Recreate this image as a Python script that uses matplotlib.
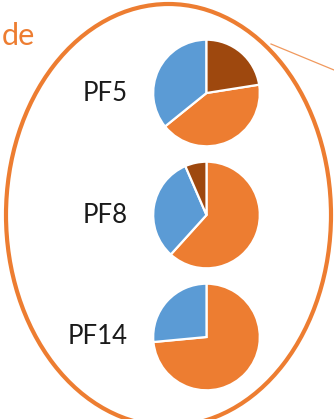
import matplotlib.pyplot as plt
from matplotlib.patches import Ellipse

# pie shares per profile (percent)
profiles = ['PF5', 'PF8', 'PF14']
orange_share = [41.7, 61.7, 73.5]
blue_share = [35.8, 31.8, 26.5]
brown_share = [22.5, 6.5, 0.0]

colors = ['#ED7D31', '#5B9BD5', '#9E480E']

W, H = 334, 419
fig = plt.figure(figsize=(W / 100, H / 100), dpi=100)
ax = fig.add_axes([0, 0, 1, 1])

# layout in pixel units (y measured from top)
centers_y = [93, 215, 337]
pie_x = 206.5
radius = 53.3
first_angle = [81, 0, 0]  # degrees clockwise from 12 o'clock where the orange slice starts

for i, name in enumerate(profiles):
    vals = [orange_share[i], blue_share[i], brown_share[i]]
    keep = [(v, c) for v, c in zip(vals, colors) if v > 0]
    ax.pie([v for v, c in keep], colors=[c for v, c in keep],
           center=(pie_x, H - centers_y[i]), radius=radius,
           startangle=90 - first_angle[i], counterclock=False, frame=True,
           wedgeprops=dict(edgecolor='white', linewidth=1.6))
    ax.text(128, H - centers_y[i], name, ha='right', va='center',
            fontsize=18.5, family='Lato', color='#1a1a1a')

# surrounding ellipse and callout line
ax.add_patch(Ellipse((168.5, H - 215), 325, 422, fill=False,
                     edgecolor='#ED7D31', linewidth=3))
ax.plot([271, 334], [H - 44, H - 70], color='#F0995E', linewidth=0.9)

ax.text(2, H - 45, 'de', ha='left', va='baseline', fontsize=22,
        family='Lato', color='#ED7D31')

ax.set_xlim(0, W)
ax.set_ylim(0, H)
ax.set_aspect('equal')
ax.axis('off')

fig.savefig('out.png', dpi=100)
